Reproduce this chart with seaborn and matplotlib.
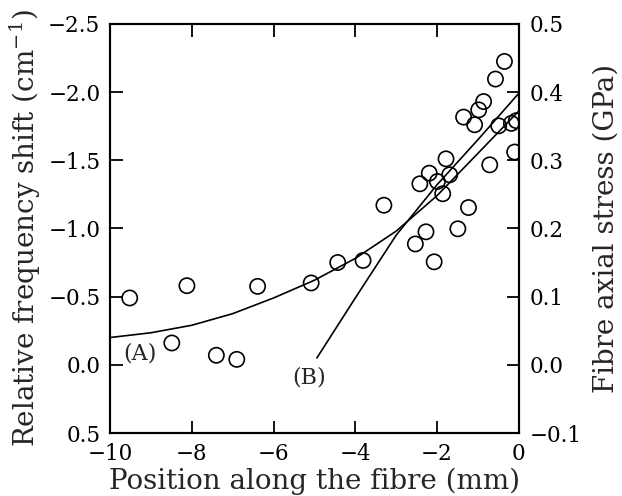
import matplotlib
matplotlib.use("Agg")
import matplotlib.pyplot as plt
import seaborn as sns
import pandas as pd

# measured points: position (mm) and relative frequency shift (cm^-1)
pos_mm = [-9.52, -8.12, -6.39, -8.49, -7.40, -6.90, -5.08, -4.43, -3.81, -3.30,
          -2.27, -2.53, -2.07, -2.42, -2.19, -1.99, -1.69, -1.86, -1.78, -1.23,
          -1.49, -0.71, -0.10, -0.35, -0.57, -0.86, -0.98, -1.35, -1.08, -0.49,
          -0.18, -0.06]
shift = [-0.49, -0.58, -0.575, -0.16, -0.07, -0.04, -0.60, -0.75, -0.765, -1.17,
         -0.975, -0.886, -0.755, -1.327, -1.405, -1.344, -1.393, -1.254, -1.51, -1.153,
         -0.997, -1.466, -1.56, -2.224, -2.095, -1.930, -1.869, -1.816, -1.760, -1.752,
         -1.77, -1.79]

# curve (A)
curveA_x = [-10, -9, -8, -7, -6, -5, -4, -3, -2, -1, 0]
curveA_y = [-0.20, -0.235, -0.29, -0.375, -0.49, -0.62, -0.78, -0.98, -1.24, -1.55, -1.86]

# curve (B)
curveB_x = [-4.94, -4.0, -3.0, -2.0, -1.0, 0.0]
curveB_y = [-0.05, -0.49, -0.95, -1.32, -1.65, -1.99]

x_ticks = [-10, -8, -6, -4, -2, 0]
x_ticklabels = ["\u221210", "\u22128", "\u22126", "\u22124", "\u22122", "0"]
yl_ticks = [-2.5, -2.0, -1.5, -1.0, -0.5, 0.0, 0.5]
yl_ticklabels = ["\u22122.5", "\u22122.0", "\u22121.5", "\u22121.0", "\u22120.5", "0.0", "0.5"]
yr_ticks = [-0.1, 0.0, 0.1, 0.2, 0.3, 0.4, 0.5]
yr_ticklabels = ["\u22120.1", "0.0", "0.1", "0.2", "0.3", "0.4", "0.5"]

sns.set_style("ticks")
plt.rcParams["font.family"] = ["DejaVu Serif"]
plt.rcParams["mathtext.fontset"] = "dejavuserif"
plt.rcParams.update({
    "xtick.direction": "in", "ytick.direction": "in",
    "xtick.major.size": 9, "ytick.major.size": 9,
    "xtick.major.width": 1.3, "ytick.major.width": 1.3,
    "xtick.color": "#000000", "ytick.color": "#000000",
    "xtick.top": True, "xtick.bottom": True,
    "axes.axisbelow": False,
})

fig = plt.figure(figsize=(6.22, 4.96), dpi=100)
ax = fig.add_axes([0.177, 0.127, 0.657, 0.825])

pts = pd.DataFrame({"pos": pos_mm, "shift": shift})
dfA = pd.DataFrame({"pos": curveA_x, "shift": curveA_y})
dfB = pd.DataFrame({"pos": curveB_x, "shift": curveB_y})

sns.lineplot(data=dfA, x="pos", y="shift", ax=ax, color="black", lw=1.2,
             sort=False, estimator=None)
sns.lineplot(data=dfB, x="pos", y="shift", ax=ax, color="black", lw=1.2,
             sort=False, estimator=None)
sns.scatterplot(data=pts, x="pos", y="shift", ax=ax, s=120, marker="o",
                facecolor="none", edgecolor="black", linewidth=1.2, zorder=3)

ax.set_xlim(-10, 0)
ax.set_ylim(0.5, -2.5)
ax.set_xticks(x_ticks)
ax.set_xticklabels(x_ticklabels)
ax.set_yticks(yl_ticks)
ax.set_yticklabels(yl_ticklabels)
ax.set_xlabel("Position along the fibre (mm)", fontsize=20, labelpad=2)
ax.set_ylabel("Relative frequency shift (cm$^{-1}$)", fontsize=20, labelpad=4)

ax.text(-9.26, -0.08, "(A)", fontsize=16, ha="center", va="center")
ax.text(-5.13, 0.095, "(B)", fontsize=16, ha="center", va="center")

ax2 = ax.twinx()
ax2.set_ylim(-0.1, 0.5)
ax2.set_yticks(yr_ticks)
ax2.set_yticklabels(yr_ticklabels)
ax2.set_ylabel("Fibre axial stress (GPa)", fontsize=20, labelpad=8)

ax.tick_params(axis="x", direction="in", length=9, width=1.3,
               labelsize=15.5, pad=7, bottom=True, top=True, colors="#000000")
ax.tick_params(axis="y", direction="in", length=9, width=1.3,
               labelsize=15.5, pad=7, left=True, right=False, colors="#000000")
ax2.tick_params(axis="y", direction="in", length=9, width=1.3,
                labelsize=15.5, pad=8, left=False, right=True, colors="#000000")
for a in (ax, ax2):
    for s in a.spines.values():
        s.set_linewidth(1.5)
        s.set_color("black")

fig.savefig("out.png", dpi=100)
